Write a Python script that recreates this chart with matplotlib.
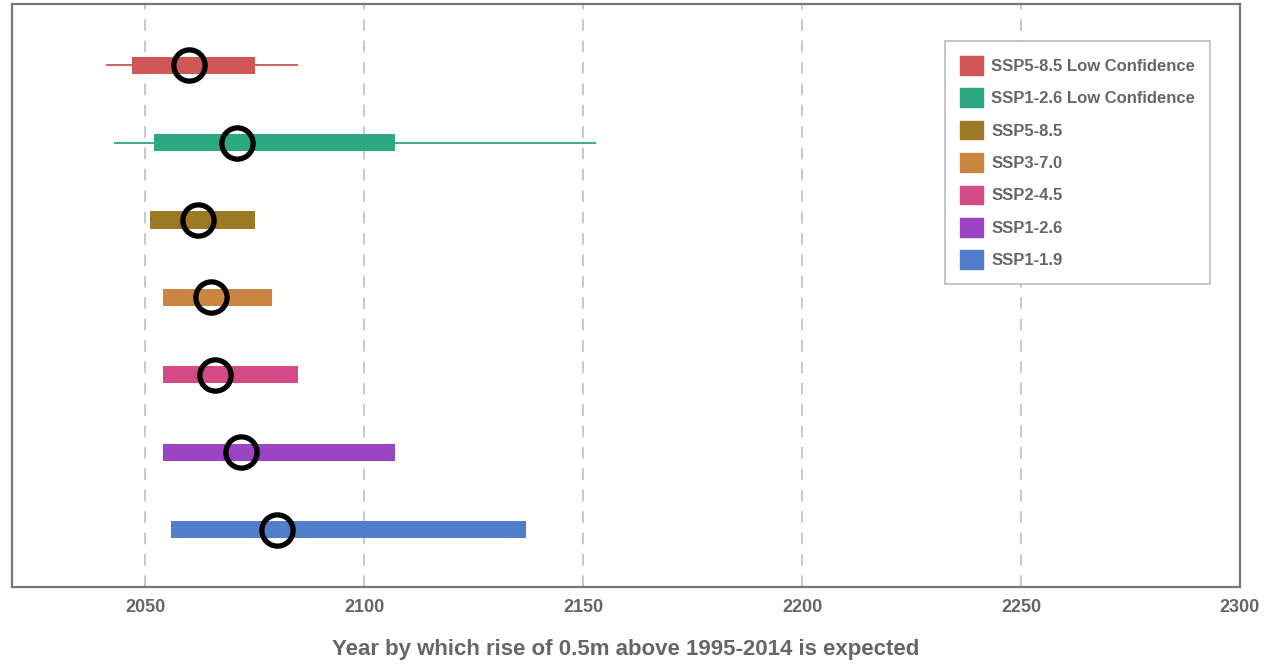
import matplotlib
matplotlib.use("Agg")
import matplotlib.pyplot as plt
from matplotlib.patches import Patch

# Data (top to bottom)
scenarios = ["SSP5-8.5 Low Confidence", "SSP1-2.6 Low Confidence", "SSP5-8.5",
             "SSP3-7.0", "SSP2-4.5", "SSP1-2.6", "SSP1-1.9"]
colors = ["#d05555", "#2ca882", "#9c7a25", "#cc8540", "#d44a86", "#9b45c4", "#527dcb"]
likely_low = [2047, 2052, 2051, 2054, 2054, 2054, 2056]
likely_high = [2075, 2107, 2075, 2079, 2085, 2107, 2137]
median = [2060, 2071, 2062, 2065, 2066, 2072, 2080]
whisker_low = [2041, 2043, None, None, None, None, None]
whisker_high = [2085, 2153, None, None, None, None, None]
xticks = [2050, 2100, 2150, 2200, 2250, 2300]
xlabel = "Year by which rise of 0.5m above 1995-2014 is expected"

plt.rcParams['font.family'] = ['Liberation Sans', 'DejaVu Sans']

fig = plt.figure(figsize=(12.69, 6.65), dpi=100)
ax = fig.add_axes([12/1269, 1-587/665, (1240-12)/1269, (587-4)/665])

n = len(scenarios)
for i, name in enumerate(scenarios):
    y = n - 1 - i
    c = colors[i]
    if whisker_low[i] is not None:
        ax.plot([whisker_low[i], whisker_high[i]], [y, y], color=c, lw=1.3, zorder=2,
                solid_capstyle='butt')
    ax.barh(y, likely_high[i] - likely_low[i], left=likely_low[i], height=0.22,
            color=c, zorder=3)
    ax.plot(median[i], y, 'o', ms=22.5, mfc='none', mec='black', mew=3.8, zorder=4)

ax.set_xlim(2019.6, 2300)
ax.set_ylim(-0.74, 6.79)
ax.set_yticks([])
ax.set_xticks(xticks)
ax.set_xticklabels([str(t) for t in xticks], fontsize=13, fontweight='bold', color='#666666')
ax.tick_params(axis='x', length=0, pad=9)
ax.grid(axis='x', color='#c8c8c8', linestyle=(0, (6, 5)), lw=1.4, zorder=0)
ax.set_axisbelow(True)
for s in ax.spines.values():
    s.set_color('#777777')
    s.set_linewidth(1.6)

ax.set_xlabel(xlabel, fontsize=16, fontweight='bold', color='#666666', labelpad=16)

handles = [Patch(facecolor=c, edgecolor=c) for c in colors]
leg = ax.legend(handles, scenarios, loc='upper right',
                bbox_to_anchor=((1210-12)/1228, (587-41)/583),
                frameon=True, fancybox=False, edgecolor='#bbbbbb', framealpha=1,
                handlelength=1.35, handleheight=1.35, handletextpad=0.5,
                labelspacing=0.82, borderpad=0.9, borderaxespad=0,
                prop={'size': 12, 'weight': 'bold'})
leg.get_frame().set_linewidth(1.2)
for t in leg.get_texts():
    t.set_color('#666666')

fig.savefig("out.png", dpi=100)
